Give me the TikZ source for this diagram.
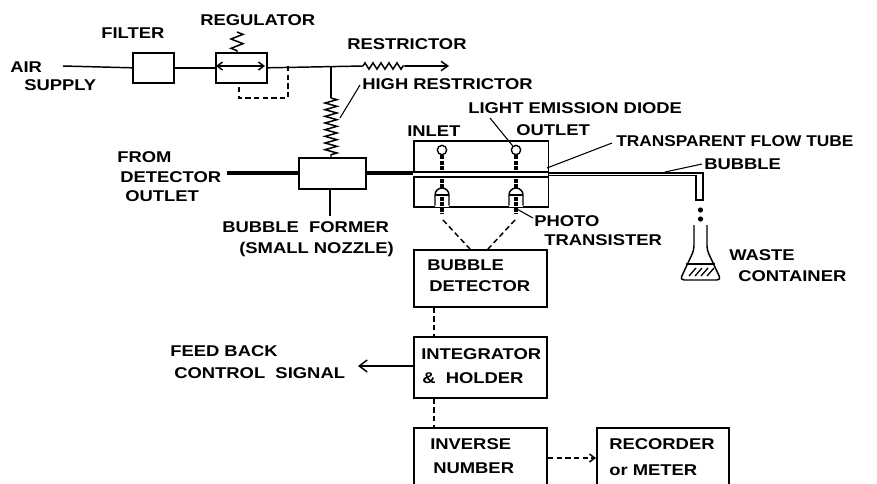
\documentclass[tikz,border=0pt]{standalone}
\usepackage{fontspec}
\setmainfont{Liberation Sans}[FakeStretch=1.18]
\usetikzlibrary{decorations.pathmorphing,arrows.meta}
\tikzset{
  x=0.75pt,y=-0.75pt,
  wire/.style={line width=1.1pt,black},
  tubewire/.style={line width=2.3pt,black},
  dashwire/.style={line width=1.1pt,black,dash pattern=on 4pt off 2.5pt},
  leader/.style={line width=.8pt,black},
  blockbox/.style={draw=black,line width=1.2pt,fill=white,inner sep=0pt,anchor=north west},
  lbl/.style={font=\bfseries\fontsize{11.7}{13}\selectfont,text=black,inner sep=0pt,anchor=west},
  hrspring/.style={line width=1.1pt,decorate,decoration={zigzag,amplitude=4.5pt,segment length=5pt}},
  rspring/.style={line width=1.1pt,decorate,decoration={zigzag,amplitude=2.4pt,segment length=6pt}},
  regspring/.style={line width=1.1pt,decorate,decoration={zigzag,amplitude=4.5pt,segment length=7pt}}
}
\begin{document}
\begin{tikzpicture}
\useasboundingbox (0,0) rectangle (877,483);
\fill[white] (0,0) rectangle (877,483);
% blocks
\node[blockbox,minimum width=30.75pt,minimum height=22.5pt] (filter) at (132,52) {};
\node[blockbox,minimum width=38.25pt,minimum height=22.5pt] (reg) at (215,52) {};
\node[blockbox,minimum width=50.25pt,minimum height=23.25pt] (former) at (298,157) {};
\node[blockbox,minimum width=101pt,minimum height=49.5pt] (cell) at (413,140) {};
\node[blockbox,minimum width=100pt,minimum height=42.75pt] (det) at (413,249) {};
\node[blockbox,minimum width=100pt,minimum height=45.75pt] (integ) at (413,336) {};
\node[blockbox,minimum width=100pt,minimum height=47.25pt] (inv) at (413,427) {};
\node[blockbox,minimum width=99pt,minimum height=47.25pt] (rec) at (596,427) {};
% air line
\coordinate (airstart) at (63,66);
\coordinate (rstart) at (363,66);
\coordinate (rend) at (405,66);
\coordinate (rout) at (449,66);
\coordinate (tee) at (331,66);
\coordinate (hrs) at (331,98);
\coordinate (hre) at (331,157);
\draw[wire] (airstart) -- (filter.west);
\draw[wire] (filter.east) -- (reg.west);
\draw[wire] (reg.east) -- (rstart);
\draw[rspring] (rstart) -- (rend);
\draw[wire,-{Straight Barb[length=5pt,width=7pt]}] (rend) -- (rout);
\draw[wire] (tee) -- (hrs);
\draw[hrspring] (hrs) -- (hre);
% regulator details
\coordinate (sprA) at (237,32);
\coordinate (sprB) at (237,52);
\draw[regspring] (sprA) -- (sprB);
\coordinate (regm) at (240,66);
\draw[wire,-{Straight Barb[length=4pt,width=6pt]}] (regm) -- (216,66);
\draw[wire,-{Straight Barb[length=4pt,width=6pt]}] (regm) -- (265,66);
\coordinate (fbA) at (288,66);
\coordinate (fbB) at (288,98);
\coordinate (fbC) at (239,98);
\coordinate (fbD) at (239,82);
\draw[dashwire] (fbA) -- (fbB) -- (fbC) -- (fbD);
% tube
\coordinate (tubeL) at (227,173);
\draw[tubewire] (tubeL) -- (former.west |- tubeL);
\draw[tubewire] (former.east |- tubeL) -- (cell.west |- tubeL);
\fill[white] (413,172) rectangle (548,177);
\draw[line width=1.2pt] (413,172) -- (548,172);
\draw[line width=1.2pt] (413,177) -- (548,177);
\draw[line width=1.5pt] (548,173) -- (703,173);
\draw[line width=1pt] (548,175.5) -- (696,175.5) -- (696,200) -- (703,200) -- (703,172);
% LEDs and phototransistors
\foreach \n/\x in {l/442,r/516}{
  \node[draw=black,line width=1pt,circle,minimum size=7pt,inner sep=0pt] (led\n) at (\x,150) {};
  \draw[line width=2.4pt,dash pattern=on 3pt off 1pt] (led\n.south) -- (\x,170);
  \fill[white] (\x-7,195) rectangle (\x+7,207);
  \draw[line width=1.1pt] (\x-7,205.5) -- (\x-7,195) arc (180:360:7) -- (\x+7,205.5);
  \draw[line width=1.3pt] (\x-7,195) -- (\x+7,195);
  \draw[line width=2.4pt,dash pattern=on 3pt off 1pt] (\x,179) -- (\x,188);
  \draw[line width=2.4pt,dash pattern=on 3pt off 1pt] (\x,197) -- (\x,214);
}
% dashed from phototransistors
\coordinate (phl) at (443,220);
\coordinate (phr) at (515,220);
\draw[dashwire] (phl) -- (470,249);
\draw[dashwire] (phr) -- (488,249);
% leaders
\draw[leader] (340,118) -- (360,85);
\draw[leader] (former.south -| 330,0) -- (330,216);
\draw[leader] (ledr) -- (490,118);
\draw[leader] (547,168) -- (612,143);
\draw[leader] (665,172) -- (702,164);
\draw[leader] (515,208) -- (533,218);
% block links
\draw[dashwire] (det.south -| 434,0) -- (integ.north -| 434,0);
\draw[dashwire] (integ.south -| 434,0) -- (inv.north -| 434,0);
\draw[dashwire,-{Straight Barb[length=4pt,width=6pt]}] (inv.east |- 0,458) -- (rec.west |- 0,458);
\draw[wire,-{Straight Barb[length=6pt,width=9pt]}] (integ.west |- 0,366) -- (358,366);
% drops and flask
\fill (700.5,210) circle (2.6);
\fill (700.5,219) circle (2.6);
\draw[line width=1.1pt,rounded corners=3] (694,225) -- (694,250) -- (680,280) -- (721,280) -- (707,250) -- (707,225);
\draw[line width=.9pt] (686,264) -- (715,264);
\foreach \d in {0,6,12,18} \draw[line width=1pt] (689+\d,276) -- (696+\d,268);
% labels
\node[lbl] (t1) at (10,67) {AIR};
\node[lbl] (t2) at (24,85) {SUPPLY};
\node[lbl] (t3) at (101,33) {FILTER};
\node[lbl] (t4) at (200,20) {REGULATOR};
\node[lbl] (t5) at (347,44) {RESTRICTOR};
\node[lbl] (t6) at (362,84) {HIGH RESTRICTOR};
\node[lbl] (t7) at (468,108) {LIGHT EMISSION DIODE};
\node[lbl] (t8) at (407,131) {INLET};
\node[lbl] (t9) at (516,130) {OUTLET};
\node[lbl,xscale=0.94] (t10) at (616,141) {TRANSPARENT FLOW TUBE};
\node[lbl] (t11) at (704,164) {BUBBLE};
\node[lbl] (t12) at (117,157) {FROM};
\node[lbl] (t13) at (120,177) {DETECTOR};
\node[lbl] (t14) at (125,196) {OUTLET};
\node[lbl] (t15) at (222,227) {BUBBLE\ \ FORMER};
\node[lbl] (t16) at (239,249) {(SMALL NOZZLE)};
\node[lbl] (t17) at (534,221) {PHOTO};
\node[lbl] (t18) at (544,240) {TRANSISTER};
\node[lbl] (t19) at (729,255) {WASTE};
\node[lbl] (t20) at (738,276) {CONTAINER};
\node[lbl] (t21) at (427,265) {BUBBLE};
\node[lbl] (t22) at (429,286) {DETECTOR};
\node[lbl] (t23) at (421,354) {INTEGRATOR};
\node[lbl] (t24) at (422,378) {\&\ \ HOLDER};
\node[lbl] (t25) at (430,444) {INVERSE};
\node[lbl] (t26) at (433,468) {NUMBER};
\node[lbl] (t27) at (609,444) {RECORDER};
\node[lbl] (t28) at (609,470) {or METER};
\node[lbl] (t29) at (170,351) {FEED BACK};
\node[lbl] (t30) at (174,373) {CONTROL\ \ SIGNAL};
\end{tikzpicture}
\end{document}
